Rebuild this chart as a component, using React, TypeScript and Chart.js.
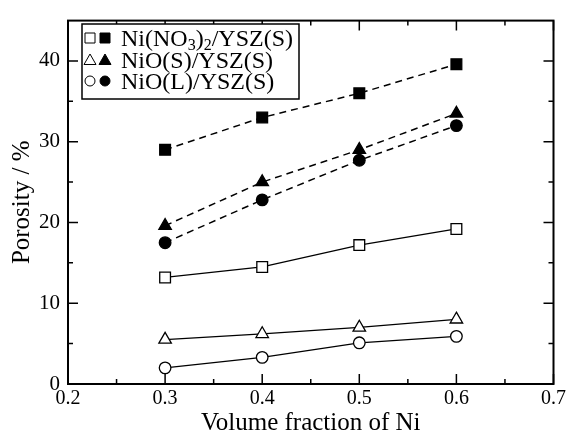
import React, { useEffect, useRef } from "react";
import { Chart, registerables } from "chart.js";

Chart.register(...registerables);

const xValues = [0.3, 0.4, 0.5, 0.6];
const nitrateFilled = [29.0, 33.0, 36.0, 39.6];
const nitrateOpen = [13.2, 14.5, 17.2, 19.2];
const nioSFilled = [19.6, 25.0, 29.0, 33.5];
const nioSOpen = [5.5, 6.2, 7.0, 8.0];
const nioLFilled = [17.5, 22.8, 27.7, 32.0];
const nioLOpen = [2.0, 3.3, 5.1, 5.9];

const xMajorTicks = [0.2, 0.3, 0.4, 0.5, 0.6, 0.7];
const xMinorTicks = [0.25, 0.35, 0.45, 0.55, 0.65];
const yMajorTicks = [0, 10, 20, 30, 40];
const yMinorTicks = [5, 15, 25, 35];

const legendRows = [
  { style: "rect", parts: [["Ni(NO", 0], ["3", 1], [")", 0], ["2", 1], ["/YSZ(S)", 0]] },
  { style: "triangle", parts: [["NiO(S)/YSZ(S)", 0]] },
  { style: "circle", parts: [["NiO(L)/YSZ(S)", 0]] },
];

const FONT = "'Liberation Serif', 'Times New Roman', serif";

function mk(data: number[], style: string, filled: boolean, label: string) {
  const r = style === "rect" ? 7.6 : style === "triangle" ? 7.2 : 5.8;
  return {
    label,
    data: xValues.map((x, i) => ({ x, y: data[i] })),
    borderColor: "#000",
    backgroundColor: "#000",
    borderWidth: filled ? 1.5 : 1.3,
    borderDash: filled ? [7, 5] : [],
    pointStyle: style,
    pointRadius: r,
    pointBackgroundColor: filled ? "#000" : "#fff",
    pointBorderColor: "#000",
    pointBorderWidth: 1.3,
    tension: 0,
    clip: false,
  };
}

const framePlugin = {
  id: "frame",
  afterDatasetsDraw(chart: any) {
    const { ctx, chartArea: a, scales } = chart;
    const xs = scales.x;
    const ys = scales.y;
    ctx.save();
    ctx.strokeStyle = "#000";
    ctx.lineWidth = 1.5;
    ctx.setLineDash([]);
    const tick = (vals: number[], len: number) => {
      vals.forEach((v) => {
        const px = xs.getPixelForValue(v);
        ctx.beginPath();
        ctx.moveTo(px, a.bottom);
        ctx.lineTo(px, a.bottom - len);
        ctx.moveTo(px, a.top);
        ctx.lineTo(px, a.top + len);
        ctx.stroke();
      });
    };
    const ytick = (vals: number[], len: number) => {
      vals.forEach((v) => {
        const py = ys.getPixelForValue(v);
        ctx.beginPath();
        ctx.moveTo(a.left, py);
        ctx.lineTo(a.left + len, py);
        ctx.moveTo(a.right, py);
        ctx.lineTo(a.right - len, py);
        ctx.stroke();
      });
    };
    tick(xMajorTicks, 10);
    tick(xMinorTicks, 5);
    ytick(yMajorTicks, 10);
    ytick(yMinorTicks, 5);
    ctx.lineWidth = 2;
    ctx.strokeRect(a.left, a.top, a.right - a.left, a.bottom - a.top);

    // legend
    const lx = 82, ly = 24, lw = 217, lh = 75;
    ctx.fillStyle = "#fff";
    ctx.fillRect(lx, ly, lw, lh);
    ctx.lineWidth = 1.5;
    ctx.strokeRect(lx, ly, lw, lh);
    const rowY = [38, 60, 81];
    legendRows.forEach((row, i) => {
      const cy = rowY[i];
      const drawMarker = (cx: number, filled: boolean) => {
        ctx.beginPath();
        if (row.style === "rect") {
          ctx.rect(cx - 5, cy - 5, 10, 10);
        } else if (row.style === "triangle") {
          ctx.moveTo(cx, cy - 6);
          ctx.lineTo(cx + 6, cy + 4.5);
          ctx.lineTo(cx - 6, cy + 4.5);
          ctx.closePath();
        } else {
          ctx.arc(cx, cy, 5, 0, Math.PI * 2);
        }
        ctx.fillStyle = filled ? "#000" : "#fff";
        ctx.fill();
        ctx.lineWidth = 1;
        ctx.strokeStyle = "#000";
        ctx.stroke();
      };
      drawMarker(90, false);
      drawMarker(105, true);
      let tx = 121;
      const base = cy + 8;
      ctx.fillStyle = "#000";
      ctx.textBaseline = "alphabetic";
      ctx.textAlign = "left";
      row.parts.forEach(([t, sub]) => {
        ctx.font = sub ? `16px ${FONT}` : `24px ${FONT}`;
        ctx.fillText(t as string, tx, sub ? base + 4 : base);
        tx += ctx.measureText(t as string).width;
      });
    });
    ctx.restore();
  },
};

export default function App() {
  const ref = useRef<HTMLCanvasElement | null>(null);
  useEffect(() => {
    if (!ref.current) return;
    const chart = new Chart(ref.current, {
      type: "scatter",
      data: {
        datasets: [
          mk(nitrateFilled, "rect", true, "Ni(NO3)2/YSZ(S) filled"),
          mk(nitrateOpen, "rect", false, "Ni(NO3)2/YSZ(S) open"),
          mk(nioSFilled, "triangle", true, "NiO(S)/YSZ(S) filled"),
          mk(nioSOpen, "triangle", false, "NiO(S)/YSZ(S) open"),
          mk(nioLFilled, "circle", true, "NiO(L)/YSZ(S) filled"),
          mk(nioLOpen, "circle", false, "NiO(L)/YSZ(S) open"),
        ].map((d) => ({ ...d, showLine: true })) as any,
      },
      options: {
        animation: false,
        responsive: false,
        layout: { padding: { top: 14, right: 15, left: 0, bottom: 0 } },
        plugins: { legend: { display: false }, tooltip: { enabled: false } },
        scales: {
          x: {
            type: "linear",
            min: 0.2,
            max: 0.7,
            grid: { display: false, drawTicks: false },
            border: { display: false },
            ticks: {
              stepSize: 0.1,
              includeBounds: false,
              color: "#000",
              padding: 3,
              font: { family: FONT, size: 20 },
              callback: (v: any) => Number(v).toFixed(1),
              maxRotation: 0,
            },
            title: {
              display: true,
              text: "Volume fraction of Ni",
              color: "#000",
              font: { family: FONT, size: 25 },
              padding: { top: 0, bottom: 1 },
            },
            afterFit: (s: any) => {
              s.height = 55;
            },
          },
          y: {
            type: "linear",
            min: 0,
            max: 45,
            grid: { display: false, drawTicks: false },
            border: { display: false },
            ticks: {
              stepSize: 10,
              includeBounds: false,
              color: "#000",
              padding: 8,
              font: { family: FONT, size: 21 },
            },
            title: {
              display: true,
              text: "Porosity / %",
              color: "#000",
              font: { family: FONT, size: 25 },
              padding: { top: 7, bottom: 0 },
            },
            afterFit: (s: any) => {
              s.width = 68;
            },
          },
        },
      },
      plugins: [framePlugin],
    });
    return () => chart.destroy();
  }, []);
  return (
    <div style={{ position: "fixed", left: 0, top: 0, width: 569, height: 439, background: "#fff" }}>
      <canvas ref={ref} width={569} height={439} />
    </div>
  );
}
